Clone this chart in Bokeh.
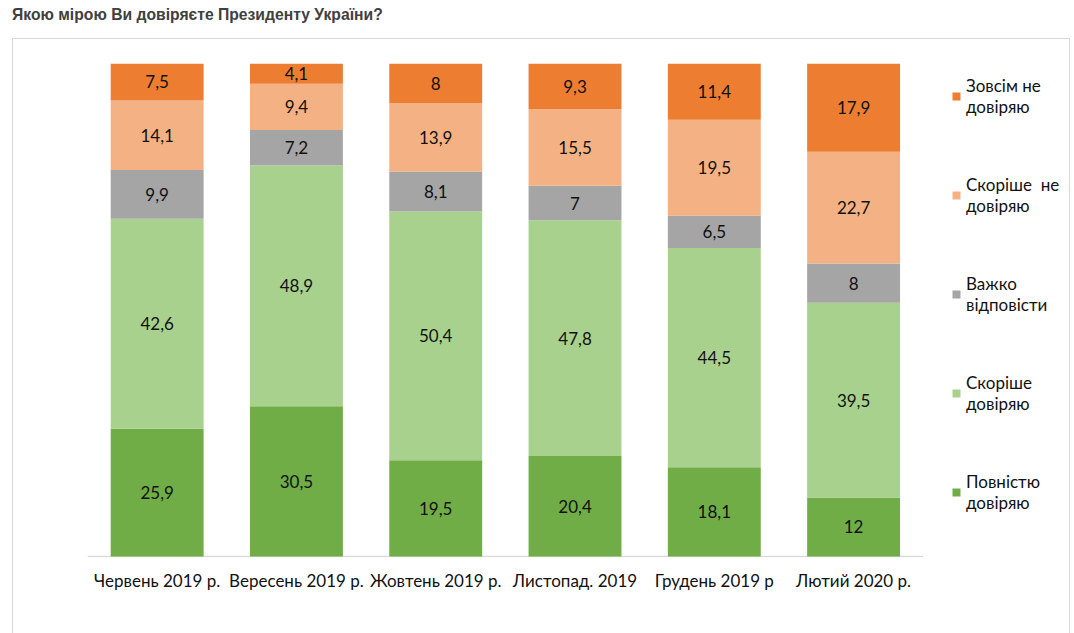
from bokeh.plotting import figure
from bokeh.models import Div, Legend, LegendItem, ColumnDataSource, FixedTicker
from bokeh.layouts import column
from bokeh.embed import file_html
from bokeh.resources import INLINE
from bokeh.core.properties import value

title_text = "Якою мірою Ви довіряєте Президенту України?"
months = ["Червень 2019 р.", "Вересень 2019 р.", "Жовтень 2019 р.",
          "Листопад. 2019", "Грудень 2019 р", "Лютий 2020 р."]
fully_trust = [25.9, 30.5, 19.5, 20.4, 18.1, 12]
rather_trust = [42.6, 48.9, 50.4, 47.8, 44.5, 39.5]
hard_to_say = [9.9, 7.2, 8.1, 7, 6.5, 8]
rather_distrust = [14.1, 9.4, 13.9, 15.5, 19.5, 22.7]
fully_distrust = [7.5, 4.1, 8, 9.3, 11.4, 17.9]
series_names = ["Повністю\nдовіряю", "Скоріше\nдовіряю", "Важко\nвідповісти",
                "Скоріше  не\nдовіряю", "Зовсім не\nдовіряю"]
series_colors = ["#70AD47", "#A9D18E", "#A5A5A5", "#F4B183", "#ED7D31"]
series = [fully_trust, rather_trust, hard_to_say, rather_distrust, fully_distrust]

FONT = "Lato"
FSIZE = "17px"
TXT = "#111111"
n = len(months)
xs = list(range(n))

p = figure(x_range=(-0.5, 6.55), y_range=(-0.2, 100),
           width=1058, height=595, output_backend="svg", toolbar_location=None,
           min_border_left=74, min_border_right=2, min_border_top=24, min_border_bottom=77,
           margin=(0, 0, 0, 12))
p.styles = {"border": "1px solid #d9d9d9", "border-bottom": "none",
            "box-sizing": "border-box"}
p.outline_line_color = None
p.grid.visible = False
p.yaxis.visible = False
p.xaxis.axis_line_color = None
p.xaxis.ticker = FixedTicker(ticks=xs)
p.xaxis.major_label_overrides = {i: m for i, m in enumerate(months)}
p.xaxis.major_tick_line_color = None
p.xaxis.major_tick_out = 0
p.xaxis.major_tick_in = 0
p.xaxis.minor_tick_line_color = None
p.xaxis.major_label_text_font = FONT
p.xaxis.major_label_text_font_size = FSIZE
p.xaxis.major_label_text_color = TXT
p.xaxis.major_label_standoff = 12

# category axis line under the bars
p.segment(x0=[-0.5], y0=[0], x1=[n - 0.5], y1=[0], line_color="#d9d9d9", line_width=1.5)

totals = [sum(s[i] for s in series) for i in range(n)]
bottoms = [0.0] * n
renderers = []
for vals, name, col in zip(series, series_names, series_colors):
    bot = list(bottoms)
    top = [b + v / t * 100 for b, v, t in zip(bot, vals, totals)]
    mid = [(b + t) / 2 for b, t in zip(bot, top)]
    labels = [(str(v).replace(".", ",")) for v in vals]
    src = ColumnDataSource(dict(x=xs, bottom=bot, top=top, mid=mid, label=labels))
    r = p.vbar(x="x", bottom="bottom", top="top", width=0.667, source=src,
               fill_color=col, line_color=None)
    p.text(x="x", y="mid", text="label", source=src, text_align="center",
           text_baseline="middle", text_font=value(FONT), text_font_size=FSIZE,
           text_color=TXT)
    renderers.append((name, r))
    bottoms = top

items = [LegendItem(label=nm, renderers=[r]) for nm, r in reversed(renderers)]
legend = Legend(items=items, location=(864, 44), orientation="vertical",
                label_text_font=FONT, label_text_font_size=FSIZE,
                label_text_color=TXT, glyph_width=10, glyph_height=10,
                spacing=57, padding=0, margin=0, border_line_color=None,
                background_fill_alpha=0, label_standoff=5)
p.add_layout(legend, "center")

title = Div(text=title_text, width=1074, height=38, margin=(0, 0, 0, 0),
            styles={"font-family": "Liberation Sans", "font-weight": "bold",
                    "font-size": "15.7px", "color": "#404040",
                    "padding-left": "12px", "padding-top": "4px",
                    "box-sizing": "border-box"})

layout = column(title, p, spacing=0)
open("out.html", "w").write(file_html(layout, INLINE))
